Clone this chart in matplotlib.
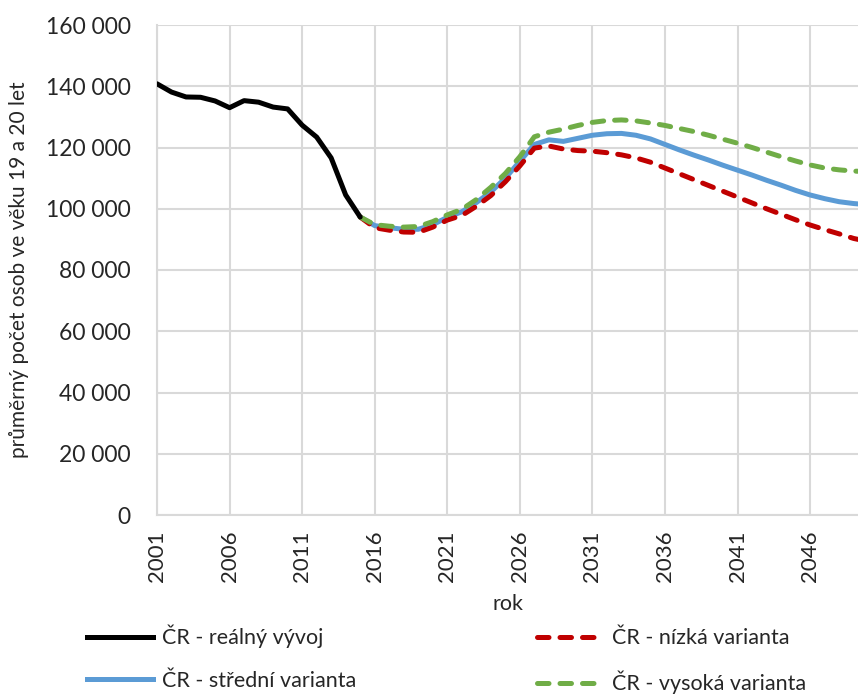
import numpy as np
import matplotlib.pyplot as plt
from matplotlib.ticker import FuncFormatter
from matplotlib.lines import Line2D

plt.rcParams['font.family'] = ['Lato', 'DejaVu Sans']

# skutečný vývoj 2001-2015
roky_real = list(range(2001, 2016))
real = [140800, 138100, 136500, 136400, 135200, 133000, 135300, 134800,
        133200, 132600, 127300, 123400, 116600, 104500, 97300]

# projekce 2015-2050
roky_proj = list(range(2015, 2051))
stredni = [97300, 94500, 93800, 93300, 93300, 94800, 97200, 99000, 102000,
           105500, 110000, 115500, 121000, 122500, 122000, 123000, 124000,
           124500, 124600, 124000, 122800, 121000, 119200, 117500, 115900,
           114200, 112600, 111000, 109300, 107700, 106000, 104500, 103300,
           102300, 101700, 101300]
nizka = [97300, 93800, 93000, 92400, 92300, 94000, 96300, 97800, 100800,
         104300, 108800, 114000, 119800, 120500, 119500, 119000, 118800,
         118300, 117600, 116600, 115200, 113300, 111400, 109500, 107600,
         105700, 103800, 101900, 100000, 98200, 96400, 94700, 93200,
         91800, 90300, 89300]
vysoka = [97300, 94800, 94300, 94000, 94200, 95800, 98000, 99800, 103000,
          107000, 111500, 117000, 123500, 125000, 126000, 127200, 128200,
          128800, 129000, 128700, 128000, 127200, 126200, 125200, 124000,
          122700, 121400, 120000, 118500, 117000, 115600, 114300, 113300,
          112700, 112300, 112100]

x_ticks = list(range(2001, 2050, 5))
y_ticks = list(range(0, 160001, 20000))

fig = plt.figure(figsize=(8.58, 6.97), dpi=100)
ax = fig.add_axes([157/858, 1 - 515/697, 1 - 157/858, 490/697])

grid_c = '#D9D9D9'
text_c = '#262626'
lw = 3.6
dash = (2.3, 2.2)

ax.plot(roky_proj, stredni, color='#5B9BD5', lw=lw, solid_capstyle='round', zorder=3)
ax.plot(roky_proj, nizka, color='#C00000', lw=lw, dashes=dash,
        dash_capstyle='round', zorder=4)
ax.plot(roky_proj, vysoka, color='#70AD47', lw=lw, dashes=dash,
        dash_capstyle='round', zorder=5)
ax.plot(roky_real, real, color='black', lw=lw, solid_capstyle='round', zorder=6)

ax.set_xlim(2001, 2049.3)
ax.set_ylim(0, 160000)
ax.set_xticks(x_ticks)
ax.set_yticks(y_ticks)
ax.yaxis.set_major_formatter(FuncFormatter(lambda v, p: f"{int(v):,}".replace(",", " ")))
ax.grid(True, color=grid_c, lw=1.5, zorder=0)
ax.set_axisbelow(True)
for s in ['top', 'right']:
    ax.spines[s].set_visible(False)
for s in ['left', 'bottom']:
    ax.spines[s].set_color(grid_c)
    ax.spines[s].set_linewidth(1.5)
ax.tick_params(length=0, colors=text_c)
ax.tick_params(axis='y', labelsize=16.5, pad=19)
ax.tick_params(axis='x', rotation=90, labelsize=16, pad=11)

ax.set_ylabel('průměrný počet osob ve věku 19 a 20 let', fontsize=15, color=text_c, labelpad=12)
ax.set_xlabel('rok', fontsize=15.5, color=text_c, labelpad=9)

handles = [
    Line2D([], [], color='black', lw=lw),
    Line2D([], [], color='#5B9BD5', lw=lw),
    Line2D([], [], color='#C00000', lw=lw, dashes=dash, dash_capstyle='round'),
    Line2D([], [], color='#70AD47', lw=lw, dashes=dash, dash_capstyle='round'),
]
labels = ['ČR - reálný vývoj', 'ČR - střední varianta',
          'ČR - nízká varianta', 'ČR - vysoká varianta']
fig.legend(handles, labels, loc='upper left', bbox_to_anchor=(0.086, 0.122),
           ncol=2, frameon=False, fontsize=15.5, handlelength=3.1,
           handletextpad=0.4, columnspacing=8.4, labelspacing=1.05,
           labelcolor=text_c, borderaxespad=0.2)

fig.savefig('out.png', dpi=100)
